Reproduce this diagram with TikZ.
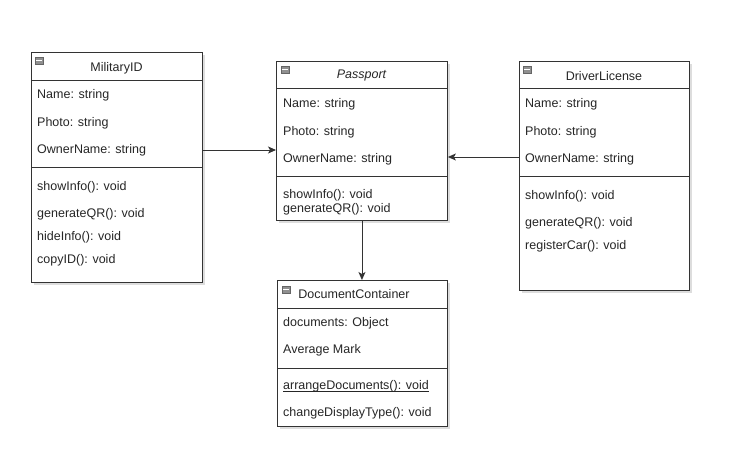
\documentclass[tikz,border=0pt]{standalone}
\usepackage{fontspec}
\setmainfont{Liberation Sans}
\usetikzlibrary{arrows.meta,shadows}
\definecolor{line}{HTML}{333333}
\definecolor{icon}{HTML}{909090}
\begin{document}
\begin{tikzpicture}[x=1pt,y=-1pt,
  box/.style={draw=line, line width=0.9pt, fill=white, anchor=north west, inner sep=0pt,
    drop shadow={shadow xshift=2.5pt,shadow yshift=-2.5pt,opacity=0.22,fill=black!60}},
  divider/.style={draw=line, line width=0.9pt},
  txt/.style={anchor=west, inner sep=0pt, yshift=-1pt, text=black!85, font=\fontsize{12.5}{14}\selectfont},
  title/.style={inner sep=0pt, yshift=-1pt, text=black!85, font=\fontsize{12.5}{14}\selectfont},
  conn/.style={draw=line, line width=0.9pt, -{Stealth[length=8pt,width=7pt,inset=2pt]}},
  icn/.style={draw=icon!70!black, fill=icon, line width=0.4pt, anchor=north west, minimum width=8pt, minimum height=7pt, inner sep=0pt},
  uline/.style={draw=black!85, line width=0.6pt}
]
\useasboundingbox (0,0) rectangle (732,454);

% ---------- MilitaryID ----------
\node[box, minimum width=171pt, minimum height=230pt] (mil) at (31,52) {};
\draw[divider] (mil.west |- 0,80) -- (mil.east |- 0,80);
\draw[divider] (mil.west |- 0,167) -- (mil.east |- 0,167);
\node[icn] (milicon) at (35,57) {};
\draw[white, line width=0.7pt] ([xshift=1.3pt]milicon.west) -- ([xshift=-1.3pt]milicon.east);
\node[title] (miltitle) at (116.5,67) {MilitaryID};
\node[txt] (milname) at (37,94) {Name: string};
\node[txt] (milphoto) at (37,122) {Photo: string};
\node[txt] (milown) at (37,149) {OwnerName: string};
\node[txt] (milshow) at (37,186) {showInfo(): void};
\node[txt] (milqr) at (37,213) {generateQR(): void};
\node[txt] (milhide) at (37,236) {hideInfo(): void};
\node[txt] (milcopy) at (37,259) {copyID(): void};

% ---------- Passport ----------
\node[box, minimum width=171pt, minimum height=159pt] (pas) at (276,61) {};
\draw[divider] (pas.west |- 0,88) -- (pas.east |- 0,88);
\draw[divider] (pas.west |- 0,176) -- (pas.east |- 0,176);
\node[icn] (pasicon) at (281,66) {};
\draw[white, line width=0.7pt] ([xshift=1.3pt]pasicon.west) -- ([xshift=-1.3pt]pasicon.east);
\node[title, font=\fontsize{12.5}{14}\selectfont\itshape] (pastitle) at (361.5,75) {Passport};
\node[txt] (pasname) at (283,103) {Name: string};
\node[txt] (pasphoto) at (283,131) {Photo: string};
\node[txt] (pasown) at (283,158) {OwnerName: string};
\node[txt] (passhow) at (283,194) {showInfo(): void};
\node[txt] (pasqr) at (283,208) {generateQR(): void};

% ---------- DriverLicense ----------
\node[box, minimum width=170pt, minimum height=229pt] (drv) at (519,61) {};
\draw[divider] (drv.west |- 0,88) -- (drv.east |- 0,88);
\draw[divider] (drv.west |- 0,176) -- (drv.east |- 0,176);
\node[icn] (drvicon) at (523,66) {};
\draw[white, line width=0.7pt] ([xshift=1.3pt]drvicon.west) -- ([xshift=-1.3pt]drvicon.east);
\node[title] (drvtitle) at (604,75) {DriverLicense};
\node[txt] (drvname) at (525,103) {Name: string};
\node[txt] (drvphoto) at (525,131) {Photo: string};
\node[txt] (drvown) at (525,158) {OwnerName: string};
\node[txt] (drvshow) at (525,195) {showInfo(): void};
\node[txt] (drvqr) at (525,222) {generateQR(): void};
\node[txt] (drvcar) at (525,245) {registerCar(): void};

% ---------- DocumentContainer ----------
\node[box, minimum width=170pt, minimum height=146pt] (doc) at (277,280) {};
\draw[divider] (doc.west |- 0,308) -- (doc.east |- 0,308);
\draw[divider] (doc.west |- 0,368) -- (doc.east |- 0,368);
\node[icn] (docicon) at (282,286) {};
\draw[white, line width=0.7pt] ([xshift=1.3pt]docicon.west) -- ([xshift=-1.3pt]docicon.east);
\node[title] (doctitle) at (354,293) {DocumentContainer};
\node[txt] (docobj) at (283,322) {documents: Object};
\node[txt] (docavg) at (283,349) {Average Mark};
\node[txt] (docarr) at (283,385) {arrangeDocuments(): void};
\draw[uline] ([yshift=-1.6pt]docarr.base west) -- ([yshift=-1.6pt]docarr.base east);
\node[txt] (docchg) at (283,412) {changeDisplayType(): void};

% ---------- connectors ----------
\draw[conn] (mil.east |- milown) -- (pas.west |- milown);
\draw[conn] (drv.west |- 0,157) -- (pas.east |- 0,157);
\draw[conn] (pas.south) -- (pas.south |- doc.north);
\end{tikzpicture}
\end{document}
